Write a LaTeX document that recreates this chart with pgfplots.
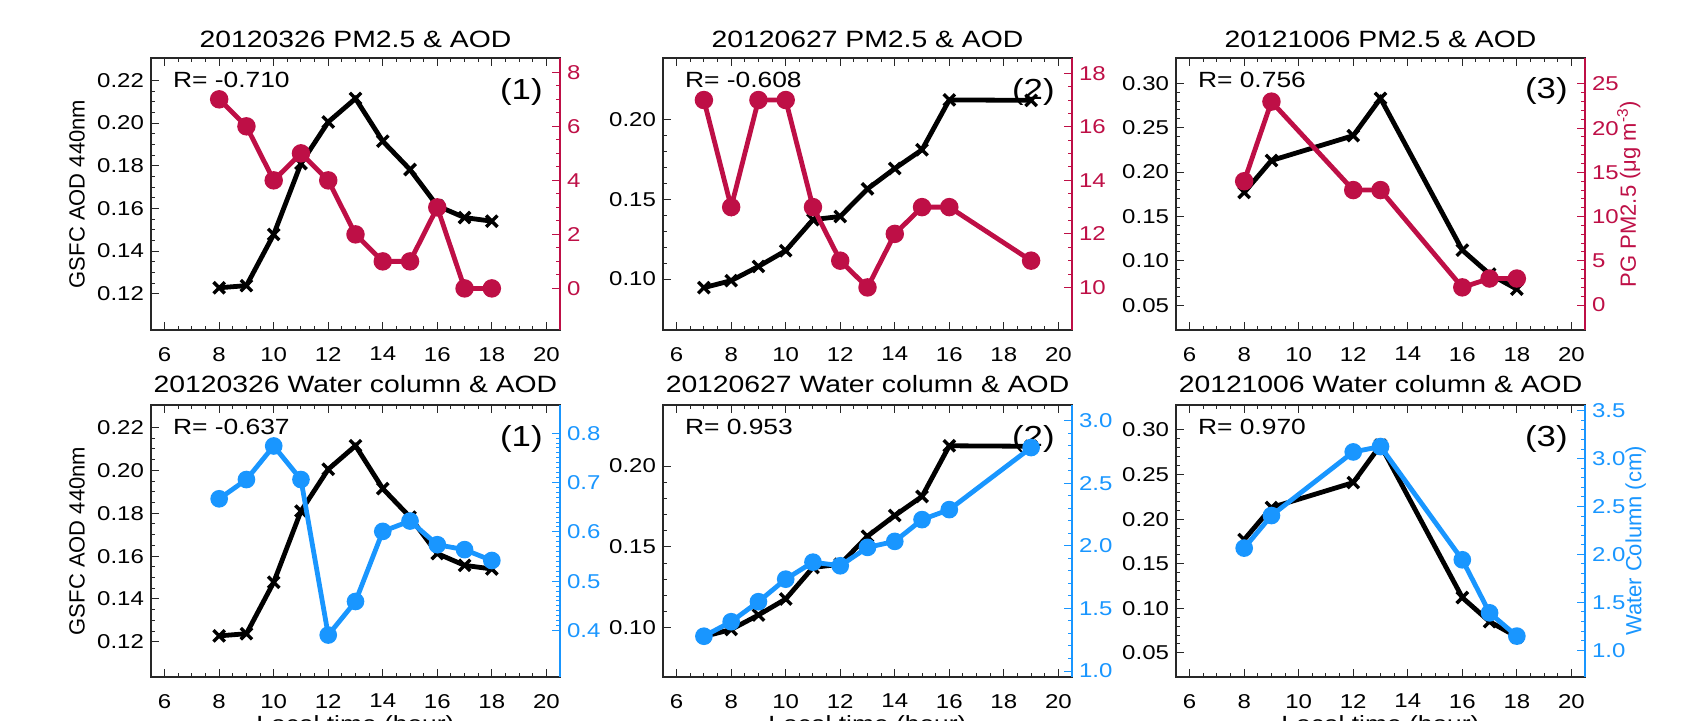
\documentclass[border=0pt]{standalone}
\usepackage{pgfplots}
\pgfplotsset{compat=1.18}
\usepackage{fontspec}
\setmainfont{Liberation Sans}[FakeStretch=1.2]
\newfontfamily\rotfont{Liberation Sans}
\definecolor{pmred}{RGB}{190,15,70}
\definecolor{wblue}{RGB}{25,150,255}
\definecolor{frame}{RGB}{40,40,40}
\newcommand\tickfont{\fontsize{10}{11}\selectfont}
\newcommand\titlefont{\fontsize{11.8}{13}\selectfont}
\newcommand\rfont{\fontsize{11}{13}\selectfont}
\newcommand\numfont{\fontsize{14.5}{16}\selectfont}
\newcommand\labfont{\rotfont\fontsize{11}{13}\selectfont}
\tikzset{
  rnote/.style={font=\rfont,anchor=base west,inner sep=0pt,xshift=10.8pt,yshift=-14.7pt},
  nnote/.style={font=\numfont,anchor=base east,inner sep=0pt,xshift=-8.5pt,yshift=-20.5pt},
}
\pgfplotsset{
  panel/.style={width=204.5pt,height=136pt,scale only axis,anchor=south west,
    xmin=5.5,xmax=20.5,xtick={6,8,...,20},minor x tick num=3,
    tick align=inside,major tick length=3.9pt,minor tick length=2pt,
    tick label style={font=\tickfont},
    /pgf/number format/assume math mode=true},
  leftax/.style={panel,axis line style={line width=1pt,frame},
    xtick pos=both,ytick pos=left,
    tick style={line width=0.5pt,frame},
    yticklabel style={/pgf/number format/.cd,fixed,fixed zerofill,precision=2},
    xticklabel shift=5pt,
    every axis title/.style={font=\titlefont,at={(0.5,1)},anchor=base}},
  rightax/.style={panel,axis x line=none,axis y line*=right,
    y axis line style={-,line width=1pt,#1},
    tick style={line width=0.5pt,#1},
    yticklabel style={#1}},
  blk/.style={black,line width=2.4pt,mark=x,mark size=4pt,mark options={line width=1.7pt}},
  pm/.style={pmred,line width=2.4pt,mark=*,mark size=3.4pt},
  wc/.style={wblue,line width=2.4pt,mark=*,mark size=3.2pt},
}
\begin{document}
\begin{tikzpicture}
\useasboundingbox (0,0) rectangle (853.5pt,360pt);
% ---------- top row ----------
\begin{axis}[leftax,at={(75.5pt,195pt)},ymin=0.103,ymax=0.2305,
  ytick={0.12,0.14,0.16,0.18,0.20,0.22},minor y tick num=3,
  title={20120326 PM2.5 \& AOD},title style={yshift=5.3pt},
  ylabel={GSFC AOD 440nm},ylabel style={font=\labfont,at={(rel axis cs:-0.181,0.5)},anchor=center}]
\addplot[blk] coordinates {(8,0.1228)(9,0.1238)(10,0.1478)(11,0.1810)(12,0.2005)(13,0.2115)(14,0.1915)(15,0.1782)(16,0.1612)(17,0.1557)(18,0.1540)};
\node[rnote] at (rel axis cs:0,1) {R= -0.710};
\node[nnote] at (rel axis cs:1,1) {(1)};
\end{axis}
\begin{axis}[rightax=pmred,at={(75.5pt,195pt)},ymin=-1.54,ymax=8.53,
  ytick={0,2,4,6,8},minor y tick num=3]
\addplot[pm] coordinates {(8,7)(9,6)(10,4)(11,5)(12,4)(13,2)(14,1)(15,1)(16,3)(17,0)(18,0)};
\end{axis}
\begin{axis}[leftax,at={(331.5pt,195pt)},ymin=0.068,ymax=0.2388,
  ytick={0.10,0.15,0.20},minor y tick num=4,
  title={20120627 PM2.5 \& AOD},title style={yshift=5.3pt}]
\addplot[blk] coordinates {(7,0.0946)(8,0.0990)(9,0.1079)(10,0.1178)(11,0.1373)(12,0.1393)(13,0.1566)(14,0.1694)(15,0.1812)(16,0.2125)(19,0.2122)};
\node[rnote] at (rel axis cs:0,1) {R= -0.608};
\node[nnote] at (rel axis cs:1,1) {(2)};
\end{axis}
\begin{axis}[rightax=pmred,at={(331.5pt,195pt)},ymin=8.41,ymax=18.57,
  ytick={10,12,14,16,18},minor y tick num=3]
\addplot[pm] coordinates {(7,17)(8,13)(9,17)(10,17)(11,13)(12,11)(13,10)(14,12)(15,13)(16,13)(19,11)};
\end{axis}
\begin{axis}[leftax,at={(588pt,195pt)},ymin=0.022,ymax=0.3285,
  ytick={0.05,0.10,0.15,0.20,0.25,0.30},minor y tick num=4,
  title={20121006 PM2.5 \& AOD},title style={yshift=5.3pt}]
\addplot[blk] coordinates {(8,0.177)(9,0.213)(12,0.241)(13,0.283)(16,0.112)(17,0.085)(18,0.068)};
\node[rnote] at (rel axis cs:0,1) {R= 0.756};
\node[nnote] at (rel axis cs:1,1) {(3)};
\end{axis}
\begin{axis}[rightax=pmred,at={(588pt,195pt)},ymin=-2.82,ymax=27.93,
  ytick={0,5,10,15,20,25},minor y tick num=4,
  ylabel={PG PM2.5 (μg m\textsuperscript{-3})},
  ylabel style={font=\labfont,color=pmred,at={(rel axis cs:1.107,0.5)},anchor=center}]
\addplot[pm] coordinates {(8,14)(9,23)(12,13)(13,13)(16,2)(17,3)(18,3)};
\end{axis}
% ---------- bottom row ----------
\begin{axis}[leftax,at={(75.5pt,21.5pt)},ymin=0.1036,ymax=0.2305,
  ytick={0.12,0.14,0.16,0.18,0.20,0.22},minor y tick num=3,
  title={20120326 Water column \& AOD},title style={yshift=6.5pt},
  ylabel={GSFC AOD 440nm},ylabel style={font=\labfont,at={(rel axis cs:-0.181,0.5)},anchor=center},
  xlabel={Local time (hour)},xlabel style={font=\rfont,at={(rel axis cs:0.5,-0.115)},anchor=north}]
\addplot[blk] coordinates {(8,0.1228)(9,0.1238)(10,0.1478)(11,0.1810)(12,0.2005)(13,0.2115)(14,0.1915)(15,0.1782)(16,0.1612)(17,0.1557)(18,0.1540)};
\node[rnote] at (rel axis cs:0,1) {R= -0.637};
\node[nnote] at (rel axis cs:1,1) {(1)};
\end{axis}
\begin{axis}[rightax=wblue,at={(75.5pt,21.5pt)},ymin=0.306,ymax=0.857,
  ytick={0.4,0.5,0.6,0.7,0.8},minor y tick num=9,
  yticklabel style={/pgf/number format/.cd,fixed,fixed zerofill,precision=1}]
\addplot[wc] coordinates {(8,0.667)(9,0.706)(10,0.774)(11,0.706)(12,0.391)(13,0.459)(14,0.601)(15,0.622)(16,0.574)(17,0.564)(18,0.542)};
\end{axis}
\begin{axis}[leftax,at={(331.5pt,21.5pt)},ymin=0.0696,ymax=0.2377,
  ytick={0.10,0.15,0.20},minor y tick num=4,
  title={20120627 Water column \& AOD},title style={yshift=6.5pt},
  xlabel={Local time (hour)},xlabel style={font=\rfont,at={(rel axis cs:0.5,-0.115)},anchor=north}]
\addplot[blk] coordinates {(7,0.0946)(8,0.0990)(9,0.1079)(10,0.1178)(11,0.1373)(12,0.1393)(13,0.1566)(14,0.1694)(15,0.1812)(16,0.2125)(19,0.2122)};
\node[rnote] at (rel axis cs:0,1) {R= 0.953};
\node[nnote] at (rel axis cs:1,1) {(2)};
\end{axis}
\begin{axis}[rightax=wblue,at={(331.5pt,21.5pt)},ymin=0.952,ymax=3.126,
  ytick={1.0,1.5,2.0,2.5,3.0},minor y tick num=4,
  yticklabel style={/pgf/number format/.cd,fixed,fixed zerofill,precision=1}]
\addplot[wc] coordinates {(7,1.278)(8,1.394)(9,1.554)(10,1.734)(11,1.870)(12,1.841)(13,1.988)(14,2.036)(15,2.21)(16,2.29)(19,2.786)};
\end{axis}
\begin{axis}[leftax,at={(588pt,21.5pt)},ymin=0.0229,ymax=0.328,
  ytick={0.05,0.10,0.15,0.20,0.25,0.30},minor y tick num=4,
  title={20121006 Water column \& AOD},title style={yshift=6.5pt},
  xlabel={Local time (hour)},xlabel style={font=\rfont,at={(rel axis cs:0.5,-0.115)},anchor=north}]
\addplot[blk] coordinates {(8,0.177)(9,0.213)(12,0.241)(13,0.283)(16,0.112)(17,0.085)(18,0.068)};
\node[rnote] at (rel axis cs:0,1) {R= 0.970};
\node[nnote] at (rel axis cs:1,1) {(3)};
\end{axis}
\begin{axis}[rightax=wblue,at={(588pt,21.5pt)},ymin=0.72,ymax=3.56,
  ytick={1.0,1.5,2.0,2.5,3.0,3.5},minor y tick num=4,
  yticklabel style={/pgf/number format/.cd,fixed,fixed zerofill,precision=1},
  ylabel={Water Column (cm)},
  ylabel style={font=\labfont,color=wblue,at={(rel axis cs:1.124,0.5)},anchor=center}]
\addplot[wc] coordinates {(8,2.066)(9,2.406)(12,3.07)(13,3.126)(16,1.944)(17,1.39)(18,1.147)};
\end{axis}
\end{tikzpicture}
\end{document}
